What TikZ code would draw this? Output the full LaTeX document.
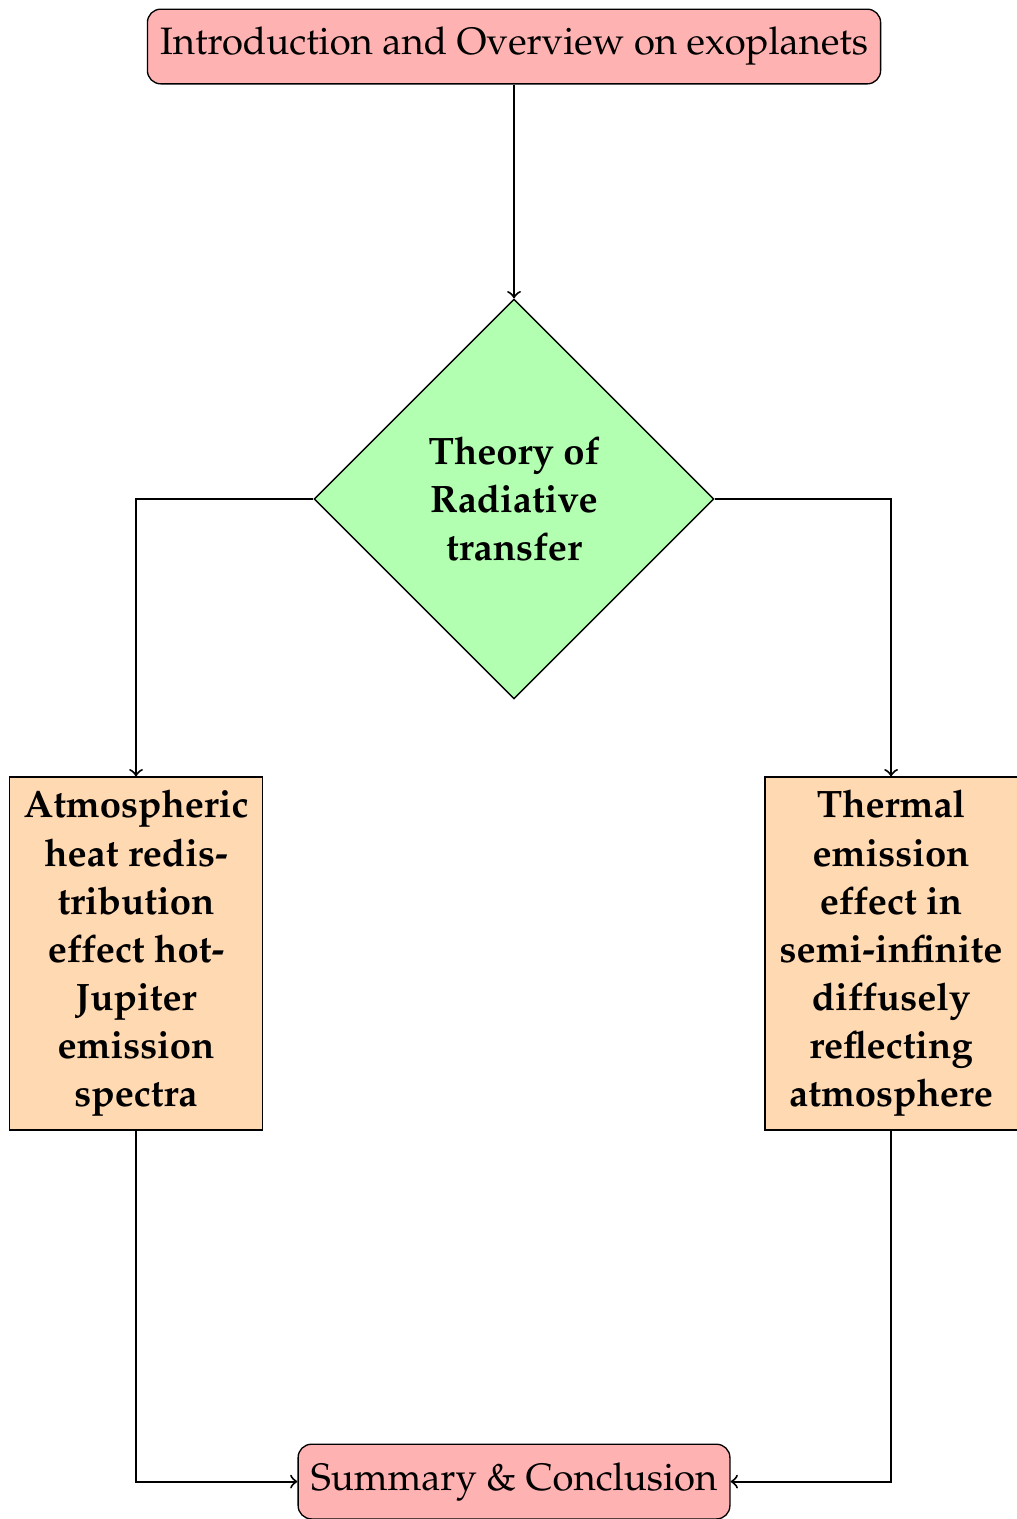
\documentclass[tikz,border=0pt,12pt]{standalone}
\usepackage[T1]{fontenc}
\usepackage{mathpazo}
\usepackage{tikz}
\usetikzlibrary{shapes.geometric, arrows, positioning}

\newcommand{\flowfont}{\fontsize{11.5}{14.5}\selectfont}

\tikzset{
	startstop/.style={rectangle, rounded corners, draw=black, fill=red!30, minimum height=0.79cm, inner xsep=3.8pt, font=\flowfont},
	decision/.style={diamond, draw=black, fill=green!30, minimum width=4.23cm, minimum height=4.23cm, inner sep=0pt, align=center, font=\flowfont\bfseries},
	process/.style={rectangle, draw=black, fill=orange!30, minimum width=2.67cm, minimum height=3.71cm, align=center, font=\flowfont\bfseries},
	arrow/.style={semithick, ->}
}

\begin{document}
\begin{tikzpicture}
	\useasboundingbox (0,0) rectangle (10.75,-16.07);
	%Start
	\node (intro) [startstop] at (5.438,-0.492) {Introduction and Overview on exoplanets};
	%Theory
	\node (theory) [decision] at (5.438,-5.279) {Theory of\\Radiative\\transfer};
	%Two branches
	\node (heat) [process] at (1.439,-10.088) {Atmospheric\\heat redis-\\tribution\\effect hot-\\Jupiter\\emission\\spectra};
	\node (thermal) [process] at (9.427,-10.088) {Thermal\\emission\\effect in\\semi-infinite\\diffusely\\reflecting\\atmosphere};
	%End
	\node (summary) [startstop] at (5.438,-15.674) {Summary \& Conclusion};
	% Arrows
	\draw [arrow] (intro) -- (theory);
	\draw [arrow] (theory.west) -| (heat.north);
	\draw [arrow] (theory.east) -| (thermal.north);
	\draw [arrow] (heat.south) |- (summary.west);
	\draw [arrow] (thermal.south) |- (summary.east);
\end{tikzpicture}
\end{document}
